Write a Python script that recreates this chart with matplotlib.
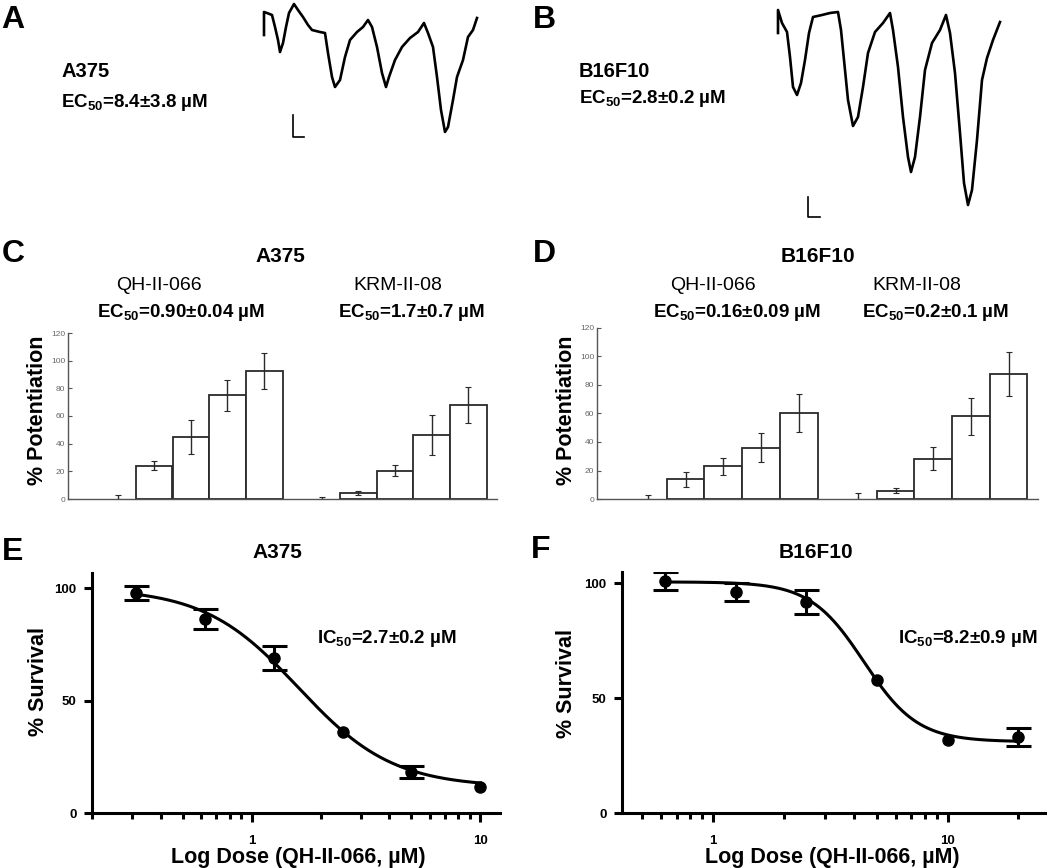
import numpy as np
import matplotlib.pyplot as plt

plt.rcParams['font.family'] = ['Liberation Sans', 'DejaVu Sans']
plt.rcParams['mathtext.fontset'] = 'custom'
plt.rcParams['mathtext.rm'] = 'Liberation Sans'
plt.rcParams['mathtext.bf'] = 'Liberation Sans:bold'
plt.rcParams['mathtext.it'] = 'Liberation Sans:italic'

# ---- data ----
# A / B: current traces (time, downward deflection), key points only
trace_a_t = [264, 264, 267, 272, 275, 278, 280, 283, 286, 289, 294, 298, 303, 308, 312, 320,
             325, 328, 332, 335, 340, 345, 350, 357, 363, 368, 372, 377, 382, 386, 389, 395,
             402, 410, 418, 424, 428, 433, 437, 441, 445, 448, 453, 457, 463, 468, 473, 477]
trace_a_y = [35, 12, 13, 15, 27, 40, 52, 43, 27, 13, 4, 10, 17, 25, 30, 32,
             33, 53, 77, 87, 80, 57, 40, 32, 27, 20, 27, 47, 73, 87, 77, 60,
             47, 38, 32, 23, 33, 47, 77, 110, 132, 127, 100, 77, 60, 37, 30, 18]
trace_b_t = [778, 778, 782, 787, 790, 793, 797, 801, 805, 809, 813, 822, 830, 838, 841, 844,
             848, 853, 858, 863, 868, 875, 883, 890, 893, 898, 903, 908, 911, 915, 920, 925,
             932, 940, 946, 950, 955, 960, 964, 968, 972, 977, 982, 987, 993, 1000]
trace_b_y = [33, 10, 23, 32, 57, 87, 95, 83, 60, 33, 17, 15, 13, 12, 30, 60,
             100, 126, 117, 87, 53, 32, 23, 13, 30, 67, 117, 157, 172, 157, 117, 70,
             43, 30, 15, 33, 73, 133, 183, 205, 190, 140, 80, 58, 40, 22]

# C / D: % potentiation (control, then 4 concentrations)
c_ctrl_err = [3, 1.2]
c_qh = [24, 45, 75, 92.5]
c_qh_err = [3.3, 12.3, 11.2, 13.3]
c_krm = [4.3, 20.5, 46.3, 68.2]
c_krm_err = [1.7, 4, 14.2, 13]

d_ctrl_err = [2.6, 4.2]
d_qh = [13.9, 23, 36, 60.5]
d_qh_err = [5.2, 6.1, 10.2, 13.4]
d_krm = [5.9, 28.2, 57.9, 88]
d_krm_err = [1.8, 8, 12.7, 15.5]

# E / F: % survival vs dose
e_dose = [0.3125, 0.625, 1.25, 2.5, 5, 10]
e_surv = [97.8, 86.2, 68.9, 36, 18.2, 11.6]
e_err = [3.2, 4.6, 5.2, 0, 2.8, 0]
e_fit = (100, 11.5, 1.6, 2.1)   # top, bottom, ic50, hill

f_dose = [0.625, 1.25, 2.5, 5, 10, 20]
f_surv = [100.9, 96, 91.7, 57.8, 31.7, 33]
f_err = [4, 4, 5.3, 0, 0, 4]
f_fit = (100.5, 31, 4.4, 3.8)

W, H = 1050, 868
fig = plt.figure(figsize=(10.5, 8.68), dpi=100)


def px_axes(x0, y0, x1, y1):
    return fig.add_axes([x0 / W, 1 - y1 / H, (x1 - x0) / W, (y1 - y0) / H])


def ftext(x, y, s, **kw):
    fig.text(x / W, 1 - y / H, s, **kw)


# panel letters
for lab, x, y in [('A', 13, 20), ('B', 544, 20), ('C', 13, 254), ('D', 544, 254),
                  ('E', 13, 552), ('F', 541, 550)]:
    ftext(x, y, lab, fontsize=23, fontweight='bold', ha='center', va='center')

# ---- A / B traces ----
for t, y, box, bar in [(trace_a_t, trace_a_y, (255, 0, 485, 145), (293, 115, 137, 304)),
                       (trace_b_t, trace_b_y, (770, 0, 1010, 220), (808, 197, 217, 820))]:
    ax = px_axes(*box)
    ax.plot(t, y, color='black', lw=1.9, solid_joinstyle='round')
    ax.plot([bar[0], bar[0], bar[3]], [bar[1], bar[2], bar[2]], color='black', lw=1.2)
    ax.set_xlim(box[0], box[2])
    ax.set_ylim(box[3], box[1])
    ax.axis('off')

ftext(61, 77, 'A375', fontsize=14.5, fontweight='bold', ha='left', va='baseline')
ftext(61, 107, r'EC$_{\mathbf{50}}$=8.4±3.8 µM', fontsize=13.5, fontweight='bold',
      ha='left', va='baseline')
ftext(579, 77, 'B16F10', fontsize=14.5, fontweight='bold', ha='left', va='baseline')
ftext(579, 103, r'EC$_{\mathbf{50}}$=2.8±0.2 µM', fontsize=13.5, fontweight='bold',
      ha='left', va='baseline')


# ---- C / D bar charts ----
def bar_panel(box, ctrl_err, qh, qh_err, krm, krm_err):
    ax = px_axes(*box)
    for start, vals, errs, cerr in [(1.35, qh, qh_err, ctrl_err[0]),
                                    (6.92, krm, krm_err, ctrl_err[1])]:
        xs = start + 1 + np.arange(4)
        ax.bar(xs, vals, width=1.0, facecolor='white', edgecolor='#2a2a2a', lw=1.3)
        ax.errorbar(xs, vals, yerr=errs, fmt='none', ecolor='#2a2a2a', elinewidth=1.0,
                    capsize=2, capthick=0.8)
        ax.errorbar([start], [0], yerr=[[0], [cerr]], fmt='none', ecolor='#2a2a2a',
                    elinewidth=1.0, capsize=2, capthick=0.8)
    ax.set_xlim(0, 11.7)
    ax.set_ylim(0, 120)
    ax.set_yticks(range(0, 121, 20))
    ax.set_xticks([])
    for s in ['top', 'right']:
        ax.spines[s].set_visible(False)
    for s in ['left', 'bottom']:
        ax.spines[s].set_color('#555555')
        ax.spines[s].set_linewidth(1.0)
    ax.tick_params(axis='y', direction='in', length=3, width=0.8, color='#555555',
                   labelsize=6, labelcolor='#666666', pad=2)
    return ax


bar_panel((68, 333, 497, 499), c_ctrl_err, c_qh, c_qh_err, c_krm, c_krm_err)
bar_panel((597, 328, 1038, 499), d_ctrl_err, d_qh, d_qh_err, d_krm, d_krm_err)

ftext(280, 257, 'A375', fontsize=15, fontweight='bold', ha='center', va='center')
ftext(818, 257, 'B16F10', fontsize=15, fontweight='bold', ha='center', va='center')
for x, s in [(159, 'QH-II-066'), (398, 'KRM-II-08'), (713, 'QH-II-066'), (917, 'KRM-II-08')]:
    ftext(x, 285, s, fontsize=14, ha='center', va='center')
for x, s in [(97, r'EC$_{\mathbf{50}}$=0.90±0.04 µM'), (338, r'EC$_{\mathbf{50}}$=1.7±0.7 µM'),
             (653, r'EC$_{\mathbf{50}}$=0.16±0.09 µM'), (862, r'EC$_{\mathbf{50}}$=0.2±0.1 µM')]:
    ftext(x, 317, s, fontsize=13.5, fontweight='bold', ha='left', va='baseline')
for x in [38, 567]:
    ftext(x, 410, '% Potentiation', fontsize=15.5, fontweight='bold', rotation=90,
          ha='center', va='center')


# ---- E / F dose response ----
def survival_panel(box, xlim, ylim, dose, surv, err, fit):
    ax = px_axes(*box)
    top, bottom, ic50, hill = fit
    xx = np.logspace(np.log10(dose[0]), np.log10(dose[-1]), 300)
    ax.plot(xx, bottom + (top - bottom) / (1 + (xx / ic50) ** hill), color='black', lw=2.2)
    ax.plot(dose, surv, 'o', color='black', ms=8)
    dose, surv, err = np.array(dose), np.array(surv), np.array(err)
    has = err > 0
    ax.errorbar(dose[has], surv[has], yerr=err[has], fmt='none', ecolor='black',
                elinewidth=2.2, capsize=9, capthick=2.2)
    ax.set_xscale('log')
    ax.set_xlim(*xlim)
    ax.set_ylim(*ylim)
    ax.set_yticks([0, 50, 100])
    ax.set_xticks([1, 10])
    ax.set_xticklabels(['1', '10'])
    for s in ['top', 'right']:
        ax.spines[s].set_visible(False)
    for s in ['left', 'bottom']:
        ax.spines[s].set_linewidth(2.2)
    ax.tick_params(axis='y', which='major', direction='out', length=6, width=2.2,
                   labelsize=9.5, pad=5)
    ax.tick_params(axis='x', which='major', direction='out', length=6.5, width=2.2,
                   labelsize=9.5, pad=9)
    ax.tick_params(axis='x', which='minor', direction='out', length=4.5, width=2.2)
    for lab in ax.get_xticklabels() + ax.get_yticklabels():
        lab.set_fontweight('bold')
    return ax


survival_panel((92, 573, 500, 813), (0.2, 12.2), (0, 106.7), e_dose, e_surv, e_err, e_fit)
survival_panel((622, 572, 1045, 813), (0.41, 26), (0, 104.8), f_dose, f_surv, f_err, f_fit)

ftext(277, 552, 'A375', fontsize=15, fontweight='bold', ha='center', va='center')
ftext(816, 552, 'B16F10', fontsize=15, fontweight='bold', ha='center', va='center')
ftext(317, 643, r'IC$_{\mathbf{50}}$=2.7±0.2 µM', fontsize=13.5, fontweight='bold',
      ha='left', va='baseline')
ftext(898, 643, r'IC$_{\mathbf{50}}$=8.2±0.9 µM', fontsize=13.5, fontweight='bold',
      ha='left', va='baseline')
for x, y in [(38, 682), (567, 684)]:
    ftext(x, y, '% Survival', fontsize=15.5, fontweight='bold', rotation=90,
          ha='center', va='center')
for x in [298, 832]:
    ftext(x, 857, 'Log Dose (QH-II-066, µM)', fontsize=15.5, fontweight='bold',
          ha='center', va='center')

fig.savefig('out.png', dpi=100)
